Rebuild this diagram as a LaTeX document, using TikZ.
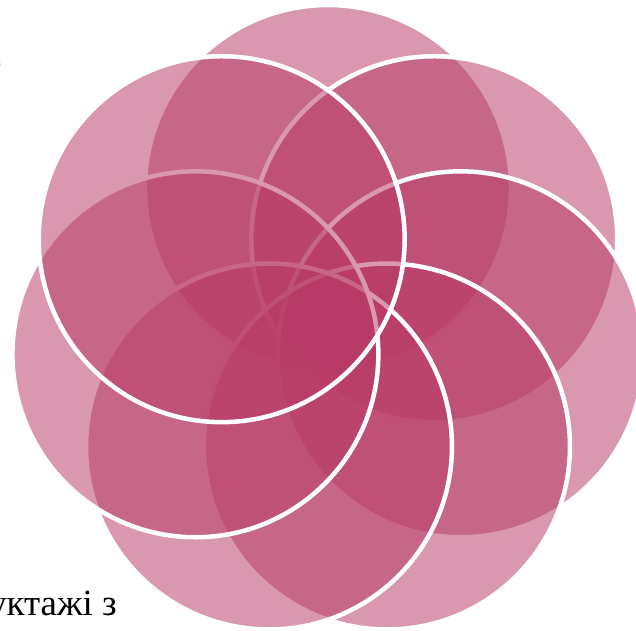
\documentclass[tikz,border=0pt]{standalone}
\usepackage{fontspec}
\setmainfont{Liberation Serif}
\usepackage{tikz}
\definecolor{ppPink}{RGB}{183,58,101}

\begin{document}
\begin{tikzpicture}[
    x=0.02cm, y=-0.02cm,
    petal/.style={circle, minimum size=7.32cm, inner sep=0pt, fill=ppPink,
                  fill opacity=0.52, draw=white, draw opacity=1, line width=0.09cm},
    txt/.style={inner sep=0pt, font=\fontsize{21pt}{25pt}\selectfont, text=black}
  ]
  \useasboundingbox (0,0) rectangle (636,631);

  \node[petal] (p1) at (328.0,188.0) {};
  \node[petal] (p2) at (434.3,239.2) {};
  \node[petal] (p3) at (460.6,354.3) {};
  \node[petal] (p4) at (387.0,446.5) {};
  \node[petal] (p5) at (269.0,446.5) {};
  \node[petal] (p6) at (195.4,354.3) {};
  \node[petal] (p7) at (221.7,239.2) {};

  \node[txt, anchor=base east, font=\fontsize{28pt}{32pt}\selectfont] (head) at (3,77) {б};
  \node[txt, anchor=base east] (tail) at (117,616) {уктажі з};
\end{tikzpicture}
\end{document}
